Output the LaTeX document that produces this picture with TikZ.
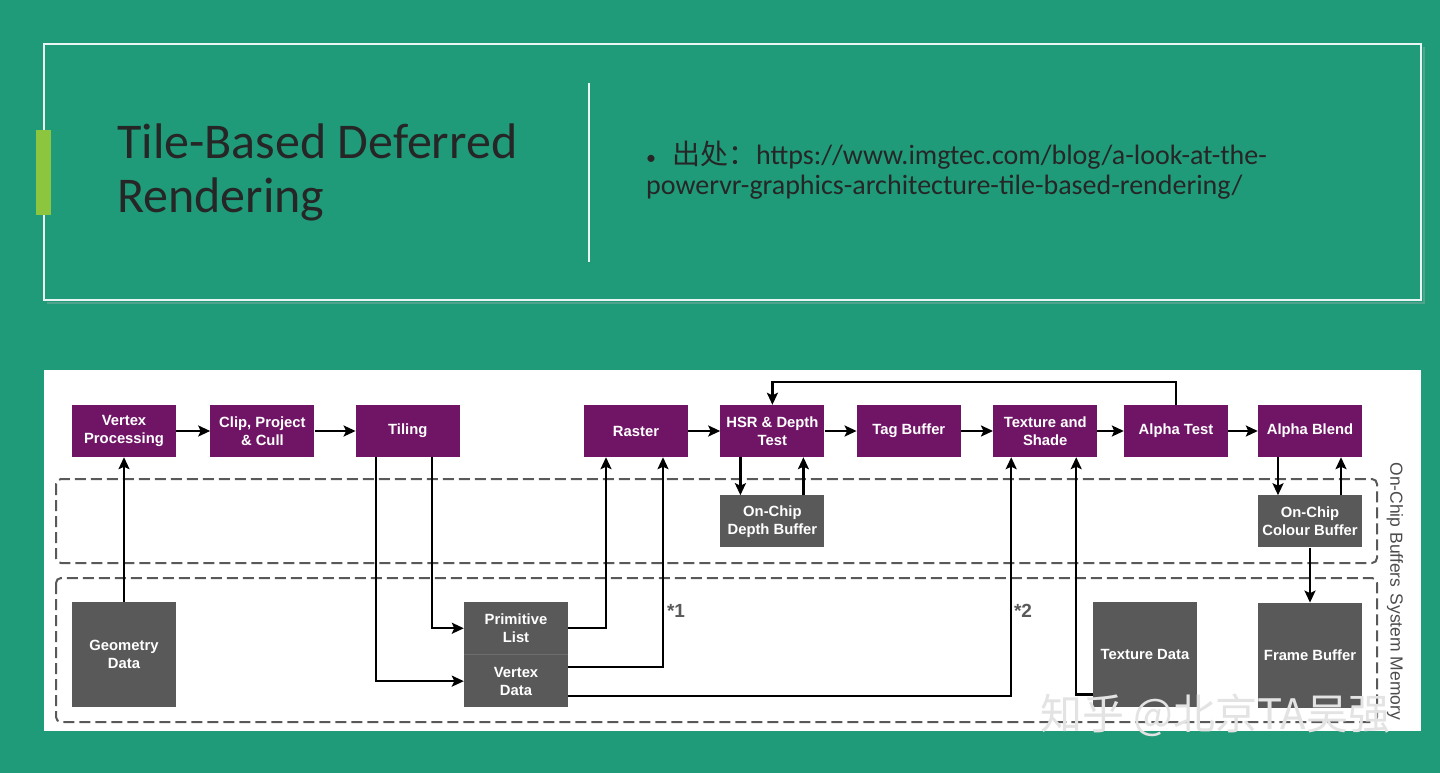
\documentclass[tikz,border=0pt]{standalone}
\usepackage{fontspec}
\setmainfont{Liberation Sans}
\newfontfamily\slidefont{Carlito}
\newfontfamily\cjk{Noto Sans CJK SC}
\usepackage{xcolor}
\usetikzlibrary{arrows.meta, positioning, calc}

\definecolor{slidebg}{HTML}{1F9B7A}
\definecolor{limebar}{HTML}{8CC63E}
\definecolor{stagepurple}{HTML}{701566}
\definecolor{storegray}{HTML}{595959}

\begin{document}
\begin{tikzpicture}[
  x=1pt, y=-1pt,
  font=\fontsize{14.8}{18}\selectfont\bfseries,
  stage/.style={fill=stagepurple, text=white, align=center, minimum width=104pt, minimum height=52pt, inner sep=2pt},
  store/.style={fill=storegray, text=white, align=center, minimum width=104pt, inner sep=2pt},
  zone/.style={draw=storegray, dash pattern=on 11pt off 5pt, line width=2pt, rounded corners=5pt},
  flow/.style={draw, line width=2.2pt, -{Stealth[length=12pt, width=11pt, inset=2.5pt]}},
  side/.style={rotate=-90, font=\fontsize{17.5}{20}\selectfont, text=black!70},
  note/.style={font=\fontsize{19}{20}\selectfont\bfseries, text=storegray}
]
\useasboundingbox (0,0) rectangle (1440,773);
\fill[slidebg] (0,0) rectangle (1440,773);

% title panel
\draw[black!30, opacity=0.35, line width=2pt] (47,303) -- (1424,303) -- (1424,47);
\draw[white!90!slidebg, line width=1.8pt] (44,44) rectangle (1421,300);
\fill[limebar] (36,130) rectangle (51,215);
\draw[white!90!slidebg, line width=1.6pt] (589,83) -- (589,262);
\node[anchor=base west, inner sep=0, align=left, text=black!85, font=\slidefont\fontsize{50}{54}\selectfont] (title) at (117,212) {Tile-Based Deferred\\Rendering};
\node[anchor=base west, inner sep=0, align=left, text=black!85, font=\slidefont\fontsize{28}{30}\selectfont] (source) at (646,194) {{\fontsize{20}{20}\selectfont•}\hspace{16pt}{\cjk 出处：}https://www.imgtec.com/blog/a-look-at-the-\\powervr-graphics-architecture-tile-based-rendering/};

% diagram panel
\fill[white] (44,370) rectangle (1421,731);
\draw[zone] (56,479) rectangle (1377,563);
\draw[zone] (56,578) rectangle (1377,722);
\node[side] (chiplbl) at (1395,525) {On-Chip Buffers};
\node[side] (memlbl) at (1395,657) {System Memory};

% pipeline stages
\node[stage] (vert) at (124,431) {Vertex\\Processing};
\node[stage, right=34pt of vert] (clip) {Clip, Project\\\& Cull};
\node[stage, right=41pt of clip] (tiling) {Tiling};
\node[stage] (raster) at (636,431) {Raster};
\node[stage, right=32pt of raster] (hsr) {HSR \& Depth\\Test};
\node[stage, right=32pt of hsr] (tag) {Tag Buffer};
\node[stage, right=32pt of tag] (shade) {Texture and\\Shade};
\node[stage] (atest) at (1176,431) {Alpha Test};
\node[stage] (ablend) at (1310,431) {Alpha Blend};

% buffers and memory
\node[store, minimum height=52pt, below=38pt of hsr] (depthbuf) {On-Chip\\Depth Buffer};
\node[store, minimum height=52pt, below=38pt of ablend] (colbuf) {On-Chip\\Colour Buffer};
\node[store, minimum height=105pt] (geom) at (124,654.5) {Geometry\\Data};
\node[store, minimum height=52.5pt] (prim) at (516,628.25) {Primitive\\List};
\node[store, minimum height=52.5pt, below=0pt of prim] (vdata) {Vertex\\Data};
\node[store, minimum height=105pt] (texdata) at (1145,654.5) {Texture Data};
\node[store, minimum height=105pt, below=55pt of colbuf] (frame) {Frame Buffer};
\draw[storegray!88!white, line width=0.6pt] (prim.south west) -- (prim.south east);

% connectors
\foreach \a/\b in {vert/clip, clip/tiling, raster/hsr, hsr/tag, tag/shade, shade/atest, atest/ablend}
  \draw[flow] (\a) -- (\b);
\draw[flow] (geom) -- (vert);
\draw[flow] ($(tiling.south)+(-32,0)$) |- (vdata.west);
\draw[flow] ($(tiling.south)+(24,0)$) |- (prim.west);
\draw[flow] (prim.east) -| ($(raster.south)+(-30,0)$);
\draw[flow] ($(vdata.east)+(0,-14)$) -| ($(raster.south)+(27,0)$);
\draw[flow] ($(vdata.east)+(0,15)$) -| ($(shade.south)+(-34,0)$);
\draw[flow] ($(texdata.west)+(0,40)$) -| ($(shade.south)+(31,0)$);
\draw[flow] (atest.north) -- ++(0,-23) -| (hsr.north);
\draw[flow] ($(hsr.south)+(-32,0)$) -- ($(depthbuf.north)+(-32,0)$);
\draw[flow] ($(depthbuf.north)+(31,0)$) -- ($(hsr.south)+(31,0)$);
\draw[flow] ($(ablend.south)+(-32,0)$) -- ($(colbuf.north)+(-32,0)$);
\draw[flow] ($(colbuf.north)+(31,0)$) -- ($(ablend.south)+(31,0)$);
\draw[flow] (colbuf) -- (frame);
\node[note] (mark1) at (676,611) {*1};
\node[note] (mark2) at (1023,611) {*2};

% watermark
\node[anchor=base west, inner sep=0, text=gray!22, font=\cjk\fontsize{42}{44}\selectfont] (wmark) at (1040,729) {知乎 @北京TA吴强};
\end{tikzpicture}
\end{document}
